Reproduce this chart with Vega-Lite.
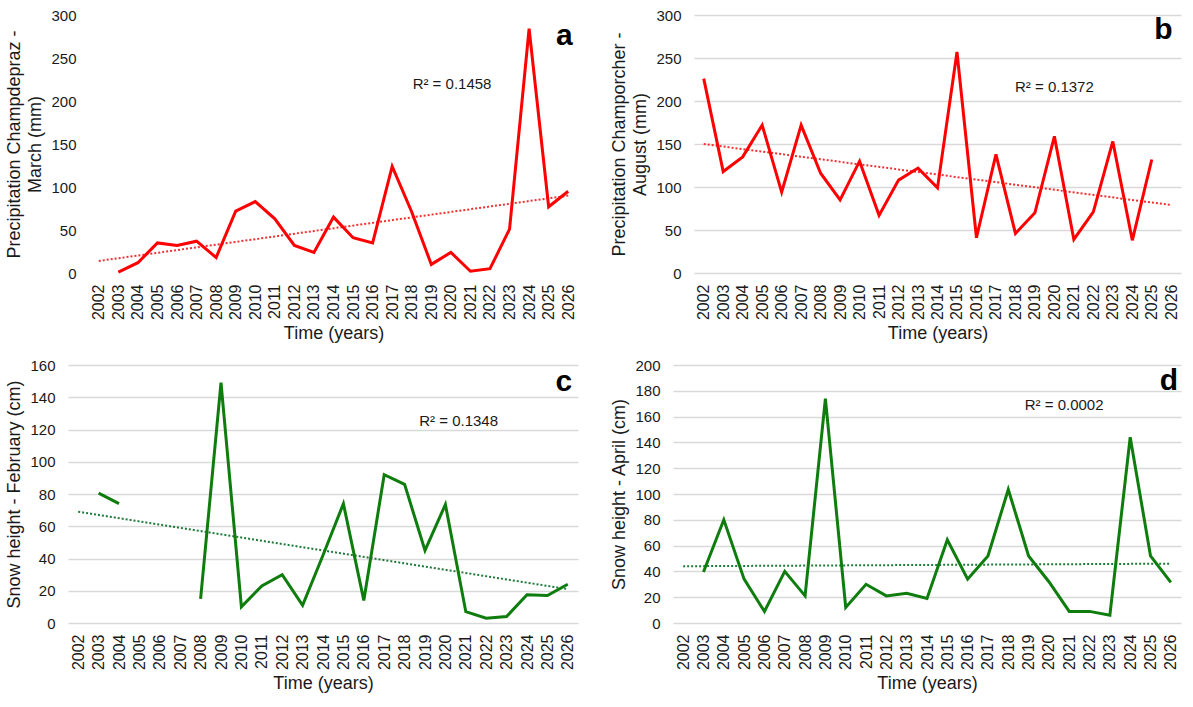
{
  "$schema": "https://vega.github.io/schema/vega-lite/v6.json",
  "autosize": {"type": "pad"},
  "padding": {"left": 5, "top": 8, "right": 5, "bottom": 5},
  "background": "white",
  "config": {
    "view": {"stroke": null},
    "font": "Liberation Sans",
    "axisY": {"grid": true, "gridColor": "#d9d9d9", "gridWidth": 1.5, "domain": false, "ticks": false, "labelPadding": 13, "labelFontSize": 15, "labelFont": "Liberation Sans", "labelColor": "#1a1a1a", "titleFont": "Liberation Sans", "titleFontSize": 18, "titleFontWeight": "normal", "titleColor": "#1a1a1a", "titlePadding": 5, "minExtent": 40, "maxExtent": 40, "titleLineHeight": 21},
    "axisX": {"grid": false, "domain": false, "ticks": false, "labelAngle": -90, "labelPadding": 11, "labelFontSize": 16, "labelFont": "Liberation Sans", "labelColor": "#1a1a1a", "titleFont": "Liberation Sans", "titleFontSize": 18, "titleFontWeight": "normal", "titleColor": "#1a1a1a", "titlePadding": 5, "labelFlush": false, "labelOverlap": false, "format": "d"}
  },
  "datasets": {
    "a_grid": [{"value": 0}, {"value": 50}, {"value": 100}, {"value": 150}, {"value": 200}, {"value": 250}, {"value": 300}],
    "a": [
      {"year": 2003, "value": 1}, {"year": 2004, "value": 12}, {"year": 2005, "value": 35}, {"year": 2006, "value": 32},
      {"year": 2007, "value": 37}, {"year": 2008, "value": 18}, {"year": 2009, "value": 72}, {"year": 2010, "value": 83},
      {"year": 2011, "value": 63}, {"year": 2012, "value": 32}, {"year": 2013, "value": 24}, {"year": 2014, "value": 65},
      {"year": 2015, "value": 41}, {"year": 2016, "value": 35}, {"year": 2017, "value": 124}, {"year": 2018, "value": 71},
      {"year": 2019, "value": 10}, {"year": 2020, "value": 24}, {"year": 2021, "value": 2}, {"year": 2022, "value": 5},
      {"year": 2023, "value": 51}, {"year": 2024, "value": 284}, {"year": 2025, "value": 77}, {"year": 2026, "value": 95}
    ],
    "a_trend": [{"year": 2002, "value": 14}, {"year": 2026, "value": 90}],
    "a_r2": [{"year": 2020.06, "value": 220, "label": "R² = 0.1458"}],
    "a_tag": [{"year": 2025.8, "value": 276, "label": "a"}],
    "b": [
      {"year": 2002, "value": 226}, {"year": 2003, "value": 118}, {"year": 2004, "value": 135}, {"year": 2005, "value": 172},
      {"year": 2006, "value": 94}, {"year": 2007, "value": 172}, {"year": 2008, "value": 116}, {"year": 2009, "value": 85},
      {"year": 2010, "value": 130}, {"year": 2011, "value": 67}, {"year": 2012, "value": 108}, {"year": 2013, "value": 122},
      {"year": 2014, "value": 99}, {"year": 2015, "value": 257}, {"year": 2016, "value": 41}, {"year": 2017, "value": 138},
      {"year": 2018, "value": 46}, {"year": 2019, "value": 70}, {"year": 2020, "value": 159}, {"year": 2021, "value": 39},
      {"year": 2022, "value": 71}, {"year": 2023, "value": 153}, {"year": 2024, "value": 38}, {"year": 2025, "value": 132}
    ],
    "b_trend": [{"year": 2002, "value": 150}, {"year": 2026, "value": 79}],
    "b_r2": [{"year": 2020, "value": 216, "label": "R² = 0.1372"}],
    "b_tag": [{"year": 2025.6, "value": 283, "label": "b"}],
    "c": [
      {"year": 2003, "value": 80.5}, {"year": 2004, "value": 74}, {"year": 2005, "value": null}, {"year": 2006, "value": null},
      {"year": 2007, "value": null}, {"year": 2008, "value": 15}, {"year": 2009, "value": 149}, {"year": 2010, "value": 10},
      {"year": 2011, "value": 23}, {"year": 2012, "value": 30}, {"year": 2013, "value": 11}, {"year": 2014, "value": 42},
      {"year": 2015, "value": 74}, {"year": 2016, "value": 14}, {"year": 2017, "value": 92}, {"year": 2018, "value": 86},
      {"year": 2019, "value": 45}, {"year": 2020, "value": 73.5}, {"year": 2021, "value": 7}, {"year": 2022, "value": 3},
      {"year": 2023, "value": 4}, {"year": 2024, "value": 17.5}, {"year": 2025, "value": 17}, {"year": 2026, "value": 24}
    ],
    "c_trend": [{"year": 2002, "value": 69}, {"year": 2026, "value": 21}],
    "c_r2": [{"year": 2020.65, "value": 125, "label": "R² = 0.1348"}],
    "c_tag": [{"year": 2025.8, "value": 149.5, "label": "c"}],
    "d": [
      {"year": 2003, "value": 39.5}, {"year": 2004, "value": 80}, {"year": 2005, "value": 34}, {"year": 2006, "value": 9},
      {"year": 2007, "value": 40}, {"year": 2008, "value": 21}, {"year": 2009, "value": 174}, {"year": 2010, "value": 12},
      {"year": 2011, "value": 30}, {"year": 2012, "value": 21}, {"year": 2013, "value": 23}, {"year": 2014, "value": 19},
      {"year": 2015, "value": 64.5}, {"year": 2016, "value": 34}, {"year": 2017, "value": 52}, {"year": 2018, "value": 103.5},
      {"year": 2019, "value": 52}, {"year": 2020, "value": 32}, {"year": 2021, "value": 9}, {"year": 2022, "value": 9},
      {"year": 2023, "value": 6}, {"year": 2024, "value": 144}, {"year": 2025, "value": 52}, {"year": 2026, "value": 31.5}
    ],
    "d_trend": [{"year": 2002, "value": 44}, {"year": 2026, "value": 46}],
    "d_r2": [{"year": 2020.75, "value": 169, "label": "R² = 0.0002"}],
    "d_tag": [{"year": 2025.9, "value": 187.6, "label": "d"}]
  },
  "spacing": 15,
  "vconcat": [
    {
      "spacing": 32,
      "hconcat": [
        {
          "width": 510, "height": 258,
          "encoding": {
            "x": {"field": "year", "type": "quantitative", "scale": {"domain": [2000.426, 2026.5], "nice": false, "zero": false}, "axis": {"title": "Time (years)", "titleX": 265.5, "values": [2002,2003,2004,2005,2006,2007,2008,2009,2010,2011,2012,2013,2014,2015,2016,2017,2018,2019,2020,2021,2022,2023,2024,2025,2026]}},
            "y": {"field": "value", "type": "quantitative", "scale": {"domain": [0, 300], "nice": false}, "axis": {"grid": false, "offset": -21, "values": [0, 50, 100, 150, 200, 250, 300], "title": ["Precipitation Champdepraz -", "March (mm)"]}}
          },
          "layer": [
            {"data": {"name": "a_grid"}, "mark": {"type": "rule", "color": "#d9d9d9", "strokeWidth": 1.5}, "encoding": {"x": {"datum": 2001.5}, "x2": {"datum": 2026.5}}},
            {"data": {"name": "a_trend"}, "mark": {"type": "line", "color": "#f03030", "strokeWidth": 2, "strokeDash": [2, 2]}},
            {"data": {"name": "a"}, "mark": {"type": "line", "color": "#ff0000", "strokeWidth": 3}},
            {"data": {"name": "a_r2"}, "mark": {"type": "text", "fontSize": 15, "color": "#1a1a1a", "align": "center", "baseline": "middle"}, "encoding": {"text": {"field": "label"}}},
            {"data": {"name": "a_tag"}, "mark": {"type": "text", "fontSize": 30, "fontWeight": "bold", "font": "Liberation Sans Narrow, Liberation Sans", "color": "#000000", "align": "center", "baseline": "middle"}, "encoding": {"text": {"field": "label"}}}
          ]
        },
        {
          "width": 487, "height": 258,
          "encoding": {
            "x": {"field": "year", "type": "quantitative", "scale": {"domain": [2001.5, 2026.5], "nice": false, "zero": false}, "axis": {"title": "Time (years)", "values": [2002,2003,2004,2005,2006,2007,2008,2009,2010,2011,2012,2013,2014,2015,2016,2017,2018,2019,2020,2021,2022,2023,2024,2025,2026]}},
            "y": {"field": "value", "type": "quantitative", "scale": {"domain": [0, 300], "nice": false}, "axis": {"values": [0, 50, 100, 150, 200, 250, 300], "title": ["Precipitation Champorcher -", "August (mm)"]}}
          },
          "layer": [
            {"data": {"name": "b_trend"}, "mark": {"type": "line", "color": "#f03030", "strokeWidth": 2, "strokeDash": [2, 2]}},
            {"data": {"name": "b"}, "mark": {"type": "line", "color": "#ff0000", "strokeWidth": 3}},
            {"data": {"name": "b_r2"}, "mark": {"type": "text", "fontSize": 15, "color": "#1a1a1a", "align": "center", "baseline": "middle"}, "encoding": {"text": {"field": "label"}}},
            {"data": {"name": "b_tag"}, "mark": {"type": "text", "fontSize": 30, "fontWeight": "bold", "font": "Liberation Sans Narrow, Liberation Sans", "color": "#000000", "align": "center", "baseline": "middle"}, "encoding": {"text": {"field": "label"}}}
          ]
        }
      ]
    },
    {
      "spacing": 32,
      "hconcat": [
        {
          "width": 510, "height": 258,
          "encoding": {
            "x": {"field": "year", "type": "quantitative", "scale": {"domain": [2001.5, 2026.5], "nice": false, "zero": false}, "axis": {"title": "Time (years)", "values": [2002,2003,2004,2005,2006,2007,2008,2009,2010,2011,2012,2013,2014,2015,2016,2017,2018,2019,2020,2021,2022,2023,2024,2025,2026]}},
            "y": {"field": "value", "type": "quantitative", "scale": {"domain": [0, 160], "nice": false}, "axis": {"values": [0, 20, 40, 60, 80, 100, 120, 140, 160], "title": "Snow height - February (cm)"}}
          },
          "layer": [
            {"data": {"name": "c_trend"}, "mark": {"type": "line", "color": "#1f7a3a", "strokeWidth": 2, "strokeDash": [2, 2]}},
            {"data": {"name": "c"}, "mark": {"type": "line", "color": "#0e7d0e", "strokeWidth": 3, "invalid": "break-paths-show-domains"}},
            {"data": {"name": "c_r2"}, "mark": {"type": "text", "fontSize": 15, "color": "#1a1a1a", "align": "center", "baseline": "middle"}, "encoding": {"text": {"field": "label"}}},
            {"data": {"name": "c_tag"}, "mark": {"type": "text", "fontSize": 30, "fontWeight": "bold", "font": "Liberation Sans Narrow, Liberation Sans", "color": "#000000", "align": "center", "baseline": "middle"}, "encoding": {"text": {"field": "label"}}}
          ]
        },
        {
          "width": 508, "height": 258,
          "encoding": {
            "x": {"field": "year", "type": "quantitative", "scale": {"domain": [2001.5, 2026.5], "nice": false, "zero": false}, "axis": {"title": "Time (years)", "values": [2002,2003,2004,2005,2006,2007,2008,2009,2010,2011,2012,2013,2014,2015,2016,2017,2018,2019,2020,2021,2022,2023,2024,2025,2026]}},
            "y": {"field": "value", "type": "quantitative", "scale": {"domain": [0, 200], "nice": false}, "axis": {"values": [0, 20, 40, 60, 80, 100, 120, 140, 160, 180, 200], "title": "Snow height - April (cm)"}}
          },
          "layer": [
            {"data": {"name": "d_trend"}, "mark": {"type": "line", "color": "#1f7a3a", "strokeWidth": 2, "strokeDash": [2, 2]}},
            {"data": {"name": "d"}, "mark": {"type": "line", "color": "#0e7d0e", "strokeWidth": 3}},
            {"data": {"name": "d_r2"}, "mark": {"type": "text", "fontSize": 15, "color": "#1a1a1a", "align": "center", "baseline": "middle"}, "encoding": {"text": {"field": "label"}}},
            {"data": {"name": "d_tag"}, "mark": {"type": "text", "fontSize": 30, "fontWeight": "bold", "font": "Liberation Sans Narrow, Liberation Sans", "color": "#000000", "align": "center", "baseline": "middle"}, "encoding": {"text": {"field": "label"}}}
          ]
        }
      ]
    }
  ]
}
